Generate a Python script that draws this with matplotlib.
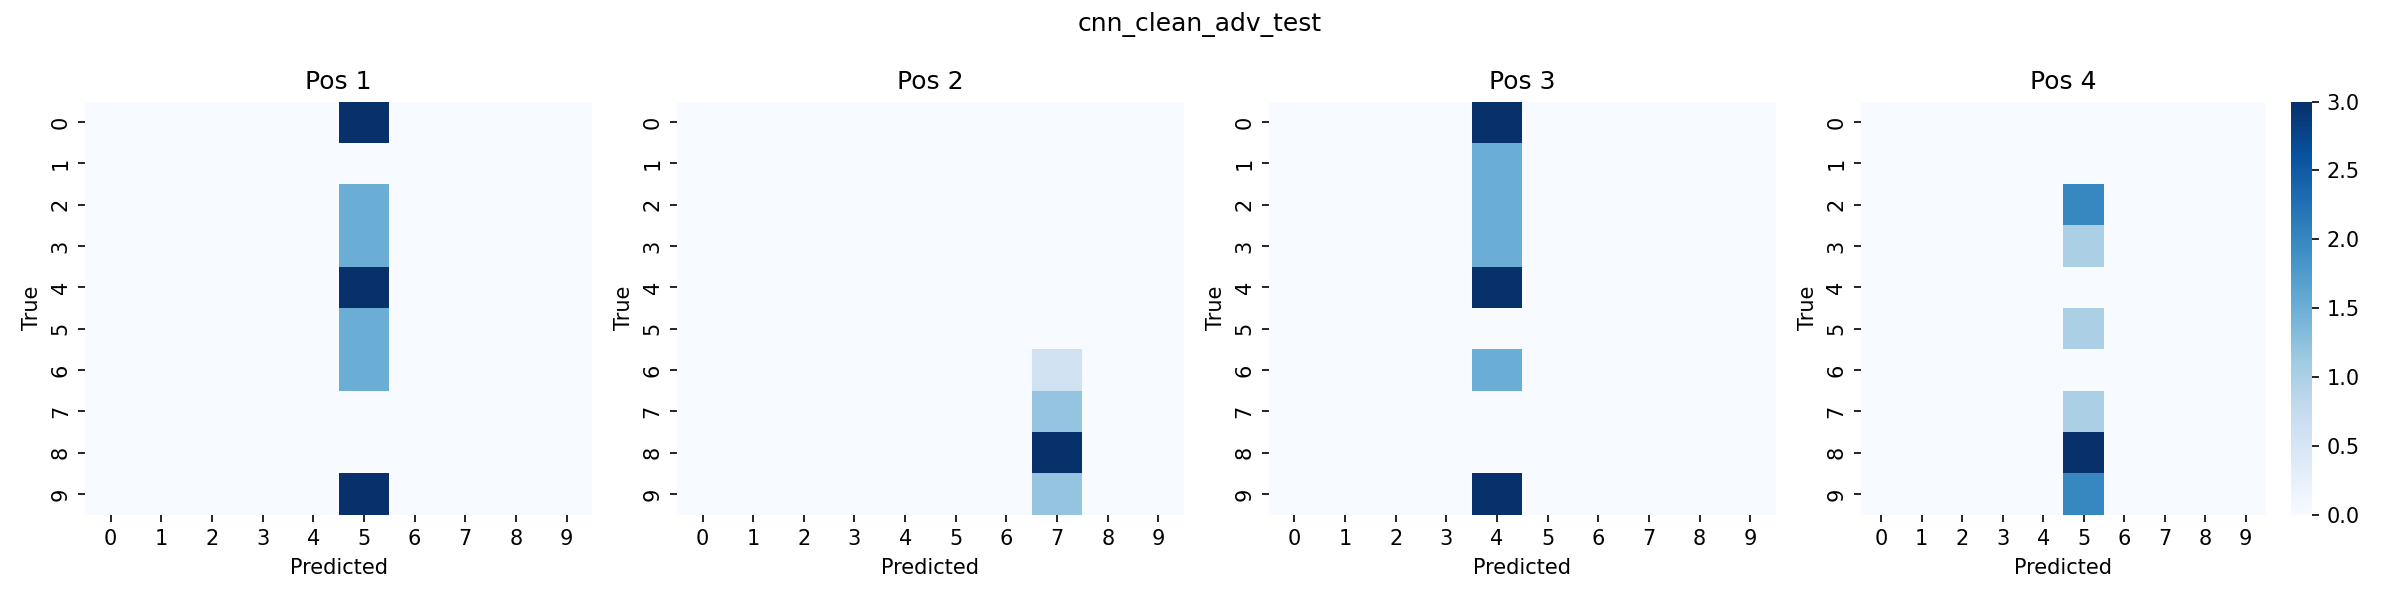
import numpy as np
import matplotlib
matplotlib.use('Agg')
import matplotlib.pyplot as plt
import seaborn as sns

classes = list(range(10))
titles = ['Pos 1', 'Pos 2', 'Pos 3', 'Pos 4']

# non-zero cells of each confusion matrix: (true, predicted) -> count
pos1_cells = {(0, 5): 2, (2, 5): 1, (3, 5): 1, (4, 5): 2, (5, 5): 1, (6, 5): 1, (9, 5): 2}
pos2_cells = {(6, 7): 1, (7, 7): 2, (8, 7): 5, (9, 7): 2}
pos3_cells = {(0, 4): 2, (1, 4): 1, (2, 4): 1, (3, 4): 1, (4, 4): 2, (6, 4): 1, (9, 4): 2}
pos4_cells = {(2, 5): 2, (3, 5): 1, (5, 5): 1, (7, 5): 1, (8, 5): 3, (9, 5): 2}


def to_matrix(cells):
    m = np.zeros((len(classes), len(classes)))
    for (t, p), v in cells.items():
        m[t, p] = v
    return m


mats = [to_matrix(c) for c in [pos1_cells, pos2_cells, pos3_cells, pos4_cells]]

fig, axes = plt.subplots(1, 4, figsize=(16, 4), dpi=150)

for i, (ax, m) in enumerate(zip(axes, mats)):
    sns.heatmap(m, ax=ax, cmap='Blues', cbar=(i == len(mats) - 1),
                xticklabels=classes, yticklabels=classes)
    ax.set_title(titles[i])
    ax.set_xlabel('Predicted')
    ax.set_ylabel('True')

fig.suptitle('cnn_clean_adv_test')
fig.tight_layout()
fig.savefig('out.png')
